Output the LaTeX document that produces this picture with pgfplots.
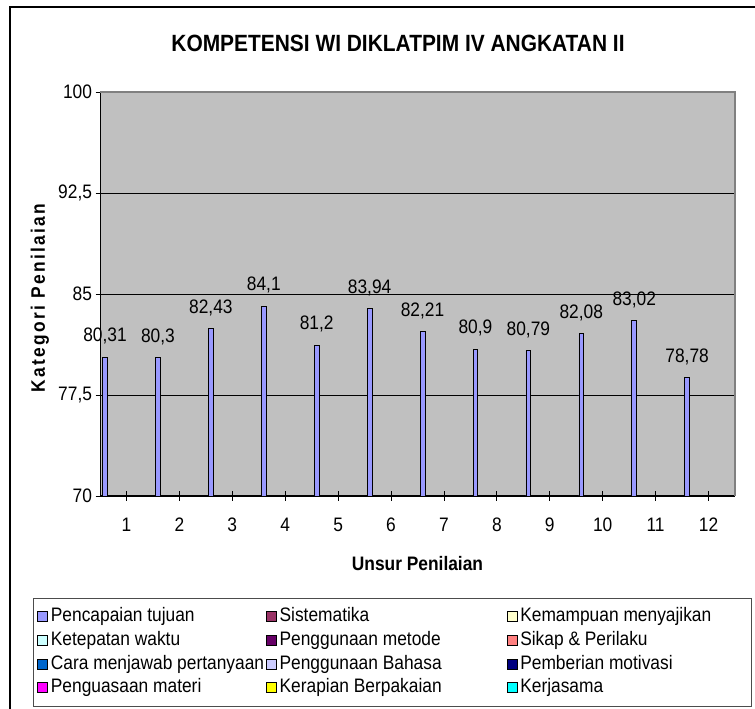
\documentclass[border=0pt]{standalone}
\usepackage{fontspec}
\setmainfont{Liberation Sans}[FakeStretch=0.89]
\usepackage{pgfplots}
\pgfplotsset{compat=1.18}
\definecolor{c1}{HTML}{9999FF}
\definecolor{c2}{HTML}{993366}
\definecolor{c3}{HTML}{FFFFCC}
\definecolor{c4}{HTML}{CCFFFF}
\definecolor{c5}{HTML}{660066}
\definecolor{c6}{HTML}{FF8080}
\definecolor{c7}{HTML}{0066CC}
\definecolor{c8}{HTML}{CCCCFF}
\definecolor{c9}{HTML}{000080}
\definecolor{c10}{HTML}{FF00FF}
\definecolor{c11}{HTML}{FFFF00}
\definecolor{c12}{HTML}{00FFFF}
\definecolor{plotbg}{HTML}{C0C0C0}
\definecolor{bord}{HTML}{808080}
\newcommand\fs{\fontsize{19.5bp}{23bp}\selectfont}
\pgfplotsset{sq/.style={legend image code/.code={\draw[##1,draw=black,line width=0.7bp] (0bp,-5bp) rectangle (10bp,5bp);}}}
\begin{document}
\begin{tikzpicture}
\useasboundingbox (0,0) rectangle (755bp,709bp);
\draw[line width=1.5bp] (10bp,0) -- (10bp,702bp) -- (755bp,702bp);
\node[font=\fontsize{23.5bp}{27bp}\selectfont\bfseries, anchor=base] at (398bp,657bp) {KOMPETENSI WI DIKLATPIM IV ANGKATAN II};
\begin{axis}[
 at={(100bp,213bp)}, anchor=south west,
 scale only axis, width=635bp, height=404bp,
 xmin=0.5, xmax=12.5, ymin=70, ymax=100,
 axis background/.style={fill=plotbg},
 axis x line*=bottom, axis y line*=left,
 axis line style={-, black, line width=1bp},
 xtick={1,2,3,4,5,6,7,8,9,10,11,12},
 xticklabels={1,2,3,4,5,6,7,8,9,10,11,12},
 ytick={70,77.5,85,92.5,100},
 yticklabels={70,{77,5},85,{92,5},100},
 ymajorgrids, major grid style={black, line width=0.8bp},
 tick align=center, major tick length=9bp, tick style={black, line width=0.8bp},
 tick label style={font=\fs},
 xticklabel style={yshift=-14bp},
 /pgf/number format/use comma,
 /pgf/number format/assume math mode=true,
 xlabel={Unsur Penilaian},
 xlabel style={font=\fs\bfseries, at={(axis description cs:0.5,-0.166)}, anchor=center},
 ylabel={Kategori Penilaian},
 ylabel style={font=\fs\bfseries\addfontfeature{LetterSpace=12}, at={(axis description cs:-0.0945,0.49)}, anchor=center},
 legend columns=3, legend cell align=left,
 legend style={draw=none, fill=none, inner sep=0pt, font=\fs,
   at={(axis description cs:-0.0992,-0.269)}, anchor=north west,
   row sep=0pt, column sep=0pt,
   nodes={inner xsep=3bp, inner ysep=2.85bp, text height=14bp, text depth=4bp}},
 after end axis/.code={\draw[bord, line width=1.5bp] (rel axis cs:0,1) -- (rel axis cs:1,1) -- (rel axis cs:1,0);},
]
\addplot[ybar, bar width=0.09, bar shift=-0.405, fill=c1, draw=black, line width=0.8bp, sq,
  nodes near coords, nodes near coords style={font=\fs, black, anchor=south, yshift=9bp, xshift=-21.4bp}]
 coordinates {(1,80.31) (2,80.3) (3,82.43) (4,84.1) (5,81.2) (6,83.94) (7,82.21) (8,80.9) (9,80.79) (10,82.08) (11,83.02) (12,78.78)};
\addlegendentry{\makebox[212bp][l]{Pencapaian tujuan}}
\addlegendimage{sq, fill=c2}\addlegendentry{\makebox[224bp][l]{Sistematika}}
\addlegendimage{sq, fill=c3}\addlegendentry{Kemampuan menyajikan}
\addlegendimage{sq, fill=c4}\addlegendentry{\makebox[212bp][l]{Ketepatan waktu}}
\addlegendimage{sq, fill=c5}\addlegendentry{\makebox[224bp][l]{Penggunaan metode}}
\addlegendimage{sq, fill=c6}\addlegendentry{Sikap \& Perilaku}
\addlegendimage{sq, fill=c7}\addlegendentry{\makebox[212bp][l]{Cara menjawab pertanyaan}}
\addlegendimage{sq, fill=c8}\addlegendentry{\makebox[224bp][l]{Penggunaan Bahasa}}
\addlegendimage{sq, fill=c9}\addlegendentry{Pemberian motivasi}
\addlegendimage{sq, fill=c10}\addlegendentry{\makebox[212bp][l]{Penguasaan materi}}
\addlegendimage{sq, fill=c11}\addlegendentry{\makebox[224bp][l]{Kerapian Berpakaian}}
\addlegendimage{sq, fill=c12}\addlegendentry{Kerjasama}
\end{axis}
\draw[black!70, line width=1bp] (33bp,2bp) rectangle (751bp,110bp);
\end{tikzpicture}
\end{document}
